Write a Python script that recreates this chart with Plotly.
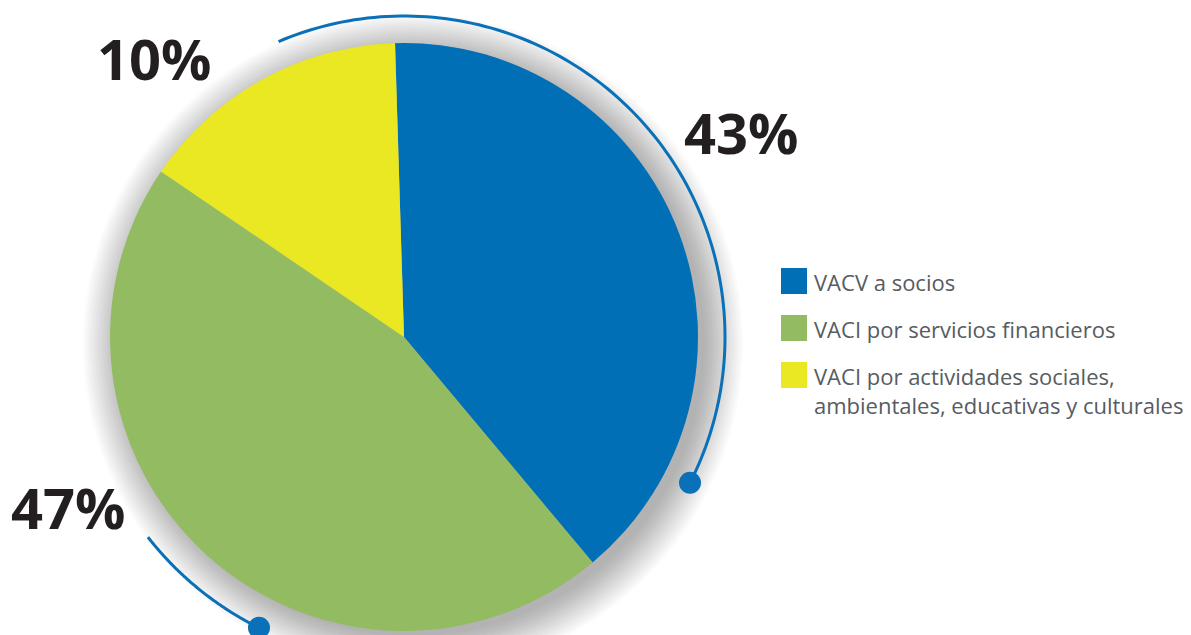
import numpy as np
import plotly.graph_objects as go

W, H = 1191, 635
OFF = 8  # page body margin in the browser

# slice data and the printed labels
labels = ["VACV a socios",
          "VACI por servicios financieros",
          "VACI por actividades sociales,<br>ambientales, educativas y culturales"]
values = [39.4, 45.6, 15.0]
pct_text = ["43%", "47%", "10%"]
colors = ["#006fb5", "#93bb62", "#eae723"]

cx, cy, r = 404, 337, 294


def px(x):
    return (x - OFF) / W


def py(y):
    return 1 - (y - OFF) / H


def arc_path(radius, a0, a1, n=120):
    # angles clockwise from 12 o'clock, degrees
    a = np.radians(np.linspace(a0, a1, n))
    xs = cx + radius * np.sin(a)
    ys = cy - radius * np.cos(a)
    pts = [f"{px(x):.5f},{py(y):.5f}" for x, y in zip(xs, ys)]
    return "M" + " L".join(pts)


def circle(x, y, rad, **kw):
    return dict(type="circle", xref="paper", yref="paper",
                x0=px(x - rad), x1=px(x + rad), y0=py(y + rad), y1=py(y - rad), **kw)


fig = go.Figure(go.Pie(
    labels=labels, values=values, sort=False, direction="clockwise",
    rotation=-1.75, marker=dict(colors=colors, line=dict(width=0)),
    textinfo="none", hoverinfo="label+percent", showlegend=False,
    domain=dict(x=[px(cx - r), px(cx + r)], y=[py(cy + r), py(cy - r)]),
))

shapes = []
# soft drop shadow, mostly to the lower right
for rad in range(292, 332, 2):
    shapes.append(circle(cx + 9, cy + 7, rad, layer="below",
                         fillcolor="rgba(0,0,0,0.017)", line=dict(width=0)))

# decorative arcs with dots
arc_col = "#0a70b8"
shapes.append(dict(type="path", xref="paper", yref="paper", path=arc_path(321, -23, 117),
                   line=dict(color=arc_col, width=3)))
shapes.append(circle(cx + 321 * np.sin(np.radians(117)), cy - 321 * np.cos(np.radians(117)), 11,
                     fillcolor=arc_col, line=dict(width=0)))
shapes.append(dict(type="path", xref="paper", yref="paper", path=arc_path(325, 232, 206.5),
                   line=dict(color=arc_col, width=3)))
shapes.append(circle(cx + 325 * np.sin(np.radians(206.5)), cy - 325 * np.cos(np.radians(206.5)), 11,
                     fillcolor=arc_col, line=dict(width=0)))

# custom legend
legend_y = [281, 328, 375]
annotations = []
for i, lab in enumerate(labels):
    sy = legend_y[i]
    shapes.append(dict(type="rect", xref="paper", yref="paper",
                       x0=px(781), x1=px(807), y0=py(sy + 13), y1=py(sy - 13),
                       fillcolor=colors[i], line=dict(width=0)))
    annotations.append(dict(x=px(812), y=py(sy - 16), xref="paper", yref="paper",
                            text=lab, showarrow=False, xanchor="left", yanchor="top",
                            align="left",
                            font=dict(family="Open Sans", size=22, color="#565c62")))

# big percentage labels
pct_pos = [(741, 132), (68, 507), (154, 58)]
for t, (x, y) in zip(pct_text, pct_pos):
    annotations.append(dict(x=px(x), y=py(y), xref="paper", yref="paper", text=f"<b>{t}</b>",
                            showarrow=False, xanchor="center", yanchor="middle",
                            font=dict(family="Open Sans", size=56, color="#231f20", weight=800)))

fig.update_layout(
    width=W, height=H, margin=dict(l=0, r=0, t=0, b=0),
    paper_bgcolor="white", plot_bgcolor="white",
    shapes=shapes, annotations=annotations,
)

fig.write_html("out.html")
